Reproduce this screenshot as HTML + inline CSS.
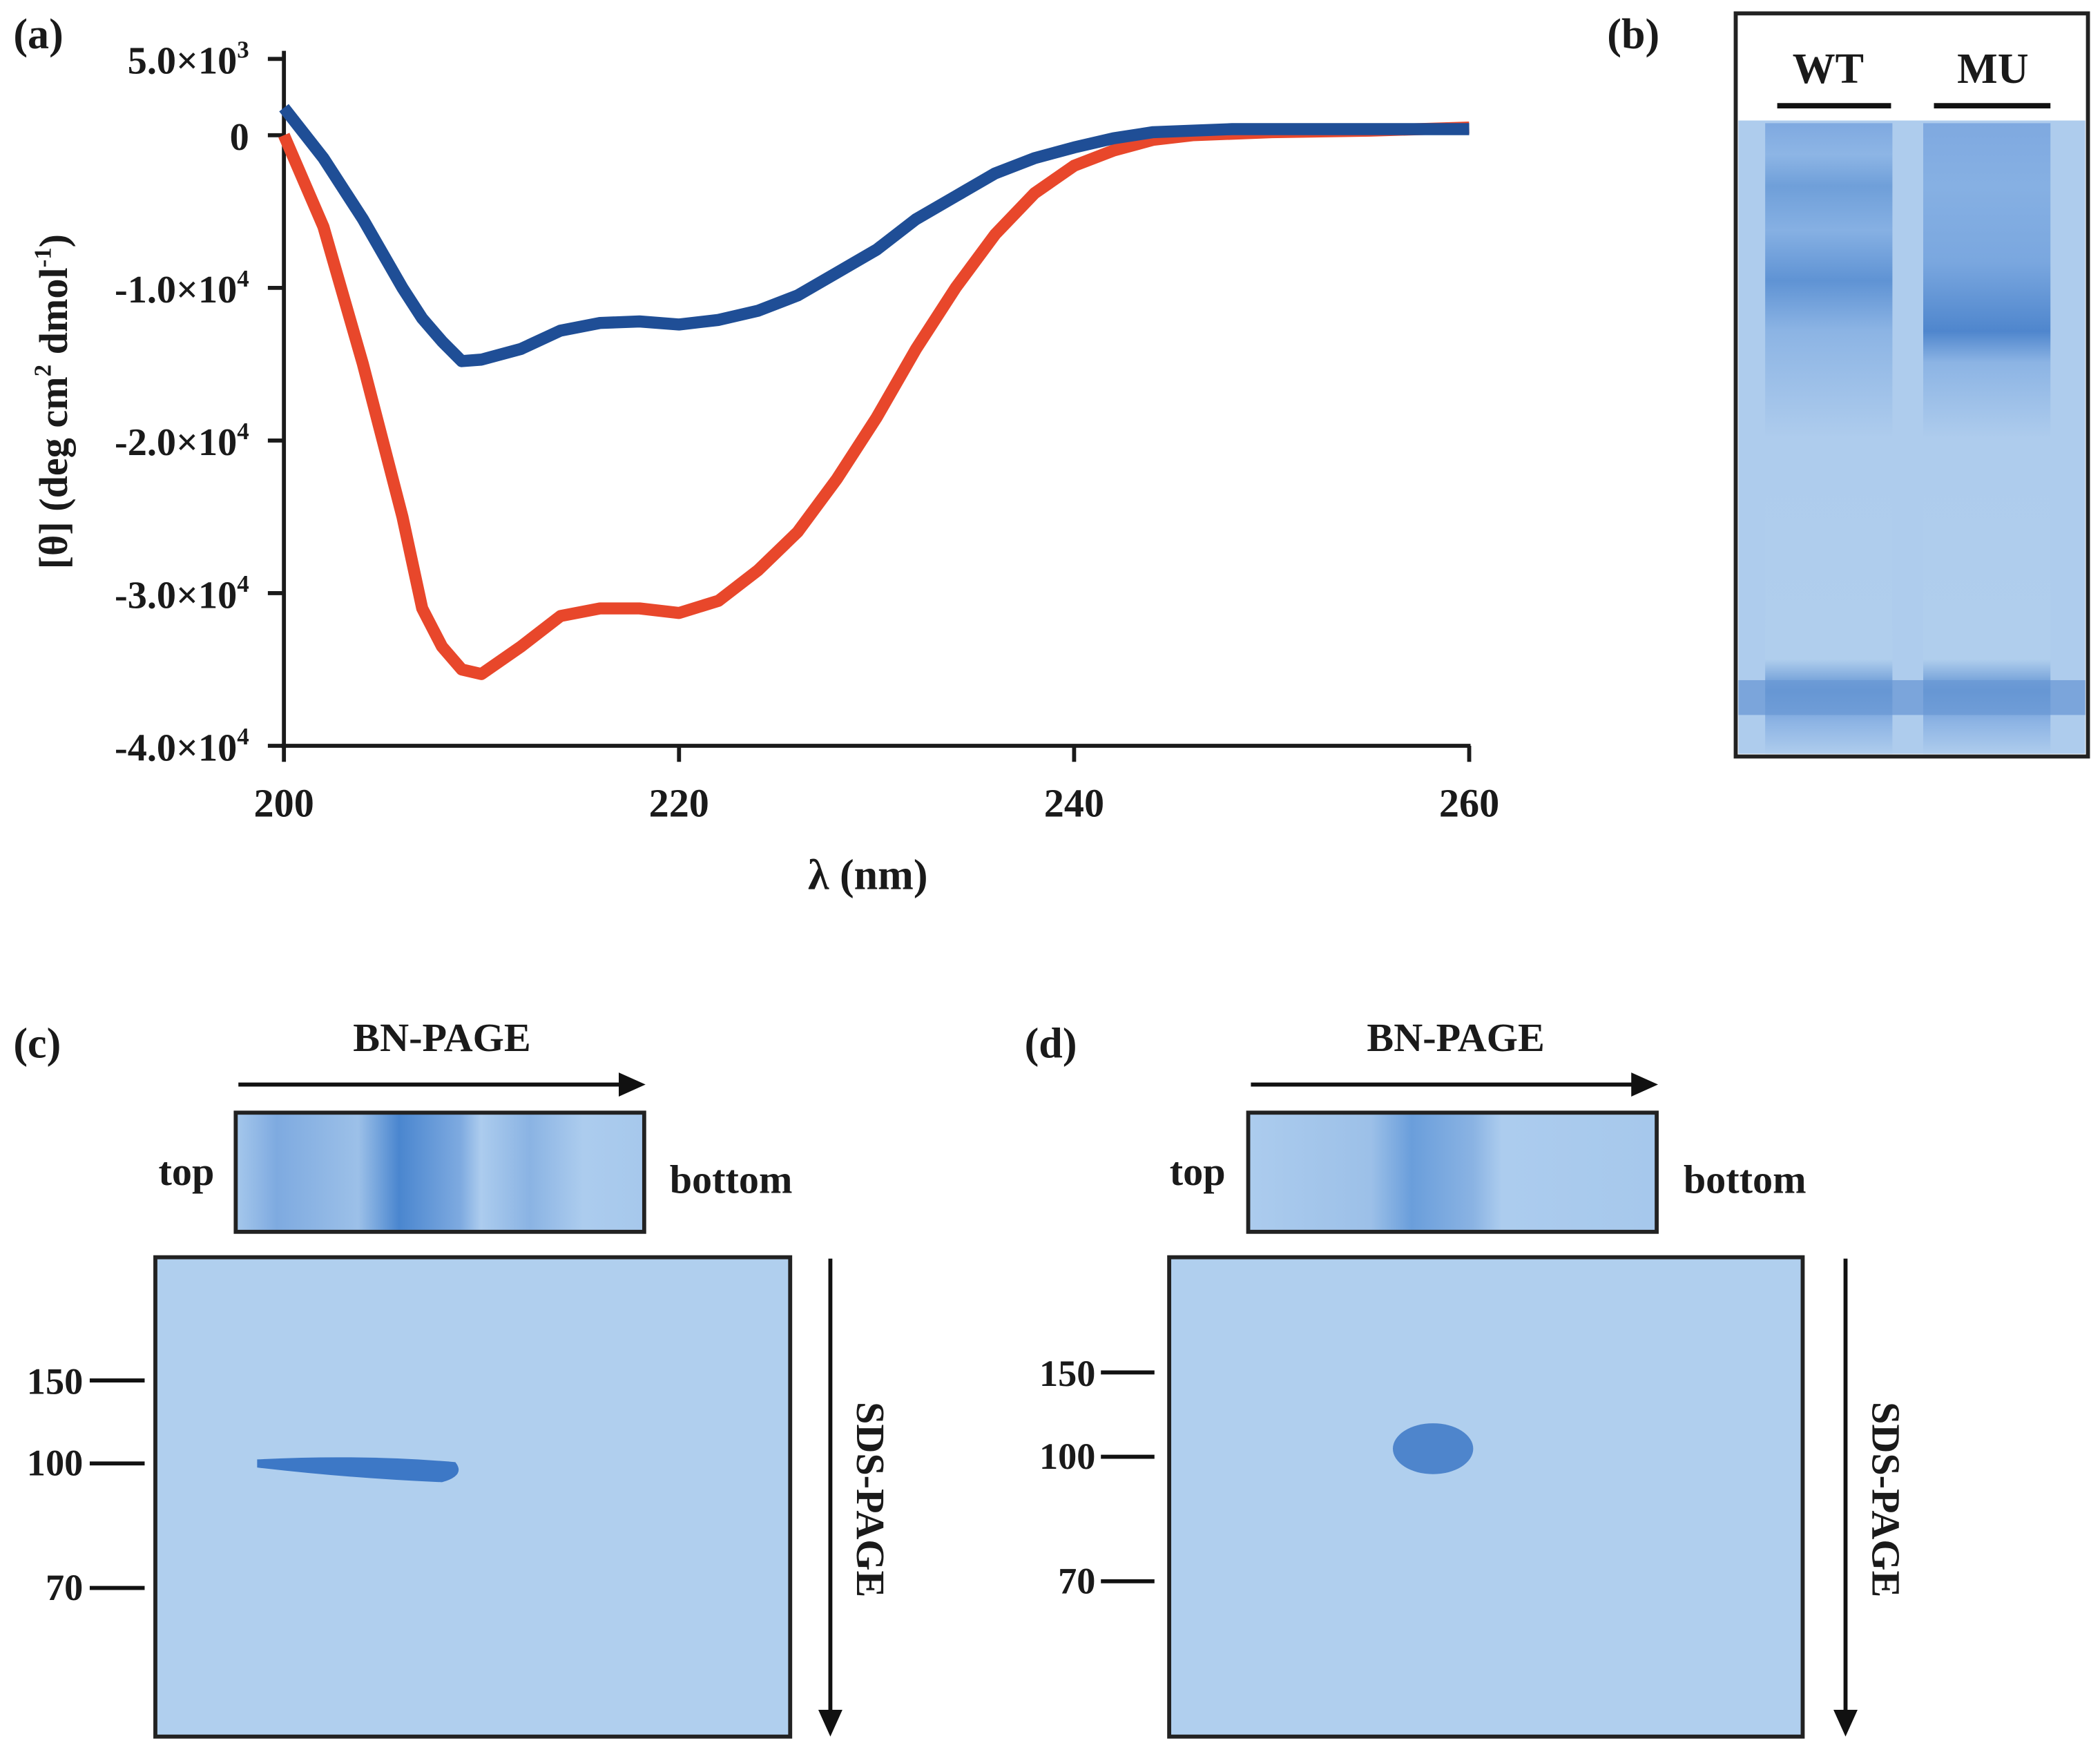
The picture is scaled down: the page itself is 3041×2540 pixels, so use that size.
<!DOCTYPE html>
<html><head><meta charset="utf-8"><style>
html,body{margin:0;padding:0;background:#fff}
svg{display:block}
text{font-family:"Liberation Serif",serif;font-weight:bold;fill:#1a1a1a}
</style></head><body>
<svg width="3041" height="2540" viewBox="0 0 1568 1310" preserveAspectRatio="none">
<defs>
<linearGradient id="gb" x1="0" y1="0" x2="0" y2="1">
<stop offset="0" stop-color="#7fa9e0"/><stop offset="0.05" stop-color="#8db5e5"/><stop offset="0.1" stop-color="#6f9fd9"/><stop offset="0.17" stop-color="#86b0e3"/>
<stop offset="0.25" stop-color="#5f93d4"/><stop offset="0.33" stop-color="#8cb4e4"/><stop offset="0.5" stop-color="#aecced"/><stop offset="0.85" stop-color="#b0ceed"/>
<stop offset="0.9" stop-color="#5f92d2"/><stop offset="0.95" stop-color="#8db4e4"/><stop offset="1" stop-color="#aecced"/></linearGradient>
<linearGradient id="gbm" x1="0" y1="0" x2="0" y2="1">
<stop offset="0" stop-color="#7fa9e0"/><stop offset="0.1" stop-color="#86b0e3"/><stop offset="0.22" stop-color="#7aa7df"/>
<stop offset="0.33" stop-color="#4f86cd"/><stop offset="0.38" stop-color="#8cb4e4"/><stop offset="0.5" stop-color="#aecced"/><stop offset="0.85" stop-color="#b0ceed"/>
<stop offset="0.9" stop-color="#5f92d2"/><stop offset="0.95" stop-color="#8db4e4"/><stop offset="1" stop-color="#aecced"/></linearGradient>
<linearGradient id="gc" x1="0" y1="0" x2="1" y2="0">
<stop offset="0" stop-color="#a6c8ec"/><stop offset="0.1" stop-color="#7eaae0"/><stop offset="0.3" stop-color="#9cc0e8"/><stop offset="0.4" stop-color="#4a86cf"/><stop offset="0.55" stop-color="#7eaae0"/><stop offset="0.6" stop-color="#acccee"/><stop offset="0.72" stop-color="#8ab3e3"/><stop offset="0.85" stop-color="#acccee"/><stop offset="1" stop-color="#a6c8ec"/></linearGradient>
<linearGradient id="gd" x1="0" y1="0" x2="1" y2="0">
<stop offset="0" stop-color="#acccee"/><stop offset="0.3" stop-color="#9cc0e8"/><stop offset="0.4" stop-color="#6a9edb"/><stop offset="0.55" stop-color="#8ab3e3"/><stop offset="0.62" stop-color="#acccee"/><stop offset="1" stop-color="#a6c8ec"/></linearGradient>
</defs>

<g id="chart-a">
<text x="10" y="36" font-size="32">(a)</text>
<line x1="212" y1="38" x2="212" y2="559" stroke="#1a1a1a" stroke-width="3"/>
<line x1="210" y1="557" x2="1098" y2="557" stroke="#1a1a1a" stroke-width="3"/>
<g id="yticks"></g><g id="xticks"></g>
<text x="648" y="664" font-size="32" text-anchor="middle">λ (nm)</text>
<text transform="translate(50,300) rotate(-90)" font-size="30" text-anchor="middle">[θ] (deg cm<tspan dy="-12" font-size="18">2</tspan><tspan dy="12"> dmol</tspan><tspan dy="-12" font-size="18">-1</tspan><tspan dy="12">)</tspan></text>
<g id="series"></g>
</g>

<g>
<text x="1200" y="36" font-size="32">(b)</text>
<rect x="1296" y="10" width="263" height="555" fill="#fff" stroke="#222" stroke-width="3"/>
<rect x="1298" y="90" width="259" height="473" fill="#aecced"/>
<rect x="1318" y="92" width="95" height="471" fill="url(#gb)"/>
<rect x="1436" y="92" width="95" height="471" fill="url(#gbm)"/>
<rect x="1298" y="508" width="259" height="26" fill="#6a98d4" opacity="0.75"/>
<text x="1365" y="62" font-size="32" text-anchor="middle">WT</text>
<text x="1488" y="62" font-size="32" text-anchor="middle">MU</text>
<line x1="1327" y1="79" x2="1412" y2="79" stroke="#111" stroke-width="4"/>
<line x1="1444" y1="79" x2="1531" y2="79" stroke="#111" stroke-width="4"/>
</g>

<g>
<text x="10" y="790" font-size="32">(c)</text>
<text x="330" y="785" font-size="30" text-anchor="middle">BN-PAGE</text>
<line x1="178" y1="810" x2="470" y2="810" stroke="#111" stroke-width="3"/><polygon points="482,810 462,801 462,819" fill="#111"/>
<text x="160" y="885" font-size="30" text-anchor="end">top</text>
<text x="500" y="891" font-size="30">bottom</text>
<rect x="176" y="831" width="305" height="89" fill="url(#gc)" stroke="#222" stroke-width="3"/>
<rect x="116" y="939" width="474" height="358" fill="#b0cfee" stroke="#222" stroke-width="3"/>
<path d="M192 1090 Q270 1086 340 1092 Q348 1102 330 1107 Q260 1104 192 1096 Z" fill="#3d78c6"/>
<text x="62" y="1041" font-size="28" text-anchor="end">150</text><line x1="67" y1="1031" x2="108" y2="1031" stroke="#111" stroke-width="3"/>
<text x="62" y="1102" font-size="28" text-anchor="end">100</text><line x1="67" y1="1093" x2="108" y2="1093" stroke="#111" stroke-width="3"/>
<text x="62" y="1195" font-size="28" text-anchor="end">70</text><line x1="67" y1="1186" x2="108" y2="1186" stroke="#111" stroke-width="3"/>
<line x1="620" y1="940" x2="620" y2="1280" stroke="#111" stroke-width="3"/><polygon points="620,1297 611,1277 629,1277" fill="#111"/>
<text transform="translate(640,1120) rotate(90)" font-size="30" text-anchor="middle">SDS-PAGE</text>
</g>

<g>
<text x="765" y="790" font-size="32">(d)</text>
<text x="1087" y="785" font-size="30" text-anchor="middle">BN-PAGE</text>
<line x1="934" y1="810" x2="1226" y2="810" stroke="#111" stroke-width="3"/><polygon points="1238,810 1218,801 1218,819" fill="#111"/>
<text x="915" y="885" font-size="30" text-anchor="end">top</text>
<text x="1257" y="891" font-size="30">bottom</text>
<rect x="932" y="831" width="305" height="89" fill="url(#gd)" stroke="#222" stroke-width="3"/>
<rect x="873" y="939" width="473" height="358" fill="#b0cfee" stroke="#222" stroke-width="3"/>
<ellipse cx="1070" cy="1082" rx="30" ry="19" fill="#3d78c6" opacity="0.85"/>
<text x="818" y="1035" font-size="28" text-anchor="end">150</text><line x1="822" y1="1025" x2="862" y2="1025" stroke="#111" stroke-width="3"/>
<text x="818" y="1097" font-size="28" text-anchor="end">100</text><line x1="822" y1="1088" x2="862" y2="1088" stroke="#111" stroke-width="3"/>
<text x="818" y="1190" font-size="28" text-anchor="end">70</text><line x1="822" y1="1181" x2="862" y2="1181" stroke="#111" stroke-width="3"/>
<line x1="1378" y1="940" x2="1378" y2="1280" stroke="#111" stroke-width="3"/><polygon points="1378,1297 1369,1277 1387,1277" fill="#111"/>
<text transform="translate(1398,1120) rotate(90)" font-size="30" text-anchor="middle">SDS-PAGE</text>
</g>
</svg>
<script>
const wavelengths=[200,202,204,206,207,208,209,210,212,214,216,218,220,222,224,226,228,230,232,234,236,238,240,242,244,246,248,250,255,260];
const wtValues=[1.8,-1.5,-5.5,-10,-12,-13.5,-14.8,-14.7,-14,-12.8,-12.3,-12.2,-12.4,-12.1,-11.5,-10.5,-9,-7.5,-5.5,-4,-2.5,-1.5,-0.8,-0.2,0.2,0.3,0.4,0.4,0.4,0.4];
const muValues=[0,-6,-15,-25,-31,-33.5,-35,-35.3,-33.5,-31.5,-31,-31,-31.3,-30.5,-28.5,-26,-22.5,-18.5,-14,-10,-6.5,-3.8,-2,-1,-0.3,0,0.1,0.2,0.3,0.5];
const xTicks=[200,220,240,260];
const yTicks=[5,0,-10,-20,-30,-40];
const yTickLabels=['5.0×10<tspan dy="-12" font-size="18">3</tspan>','0','-1.0×10<tspan dy="-12" font-size="18">4</tspan>','-2.0×10<tspan dy="-12" font-size="18">4</tspan>','-3.0×10<tspan dy="-12" font-size="18">4</tspan>','-4.0×10<tspan dy="-12" font-size="18">4</tspan>'];
const NS="http://www.w3.org/2000/svg";
function xs(v){return 212+(v-200)*14.75;}
function ys(v){return 101-v*11.4;}
const yg=document.getElementById('yticks'),xg=document.getElementById('xticks'),sg=document.getElementById('series');
yTicks.forEach((t,i)=>{
 const l=document.createElementNS(NS,'line');
 l.setAttribute('x1',200);l.setAttribute('x2',212);l.setAttribute('y1',ys(t));l.setAttribute('y2',ys(t));
 l.setAttribute('stroke','#1a1a1a');l.setAttribute('stroke-width',3);
 
 
 yg.appendChild(l);
 const tx=document.createElementNS(NS,'text');
 tx.setAttribute('x',186);tx.setAttribute('y',ys(t)+11);tx.setAttribute('font-size',29);tx.setAttribute('text-anchor','end');
 tx.innerHTML=yTickLabels[i];
 
 
 yg.appendChild(tx);
});
xTicks.forEach(t=>{
 const l=document.createElementNS(NS,'line');
 l.setAttribute('x1',xs(t));l.setAttribute('x2',xs(t));l.setAttribute('y1',557);l.setAttribute('y2',569);
 l.setAttribute('stroke','#1a1a1a');l.setAttribute('stroke-width',3);
 
 
 xg.appendChild(l);
 const tx=document.createElementNS(NS,'text');
 tx.setAttribute('x',xs(t));tx.setAttribute('y',610);tx.setAttribute('font-size',30);tx.setAttribute('text-anchor','middle');
 tx.textContent=t;
 
 
 xg.appendChild(tx);
});
function drawLine(vals,color,name){
 const p=document.createElementNS(NS,'polyline');
 p.setAttribute('points',wavelengths.map((w,i)=>xs(w)+','+ys(vals[i])).join(' '));
 p.setAttribute('fill','none');p.setAttribute('stroke',color);p.setAttribute('stroke-width',9);p.setAttribute('stroke-linejoin','round');
 
 
 sg.appendChild(p);
}
drawLine(muValues,'#e8472b','series-mu-red');
drawLine(wtValues,'#1f4e96','series-wt-blue');
</script>
</body></html>
